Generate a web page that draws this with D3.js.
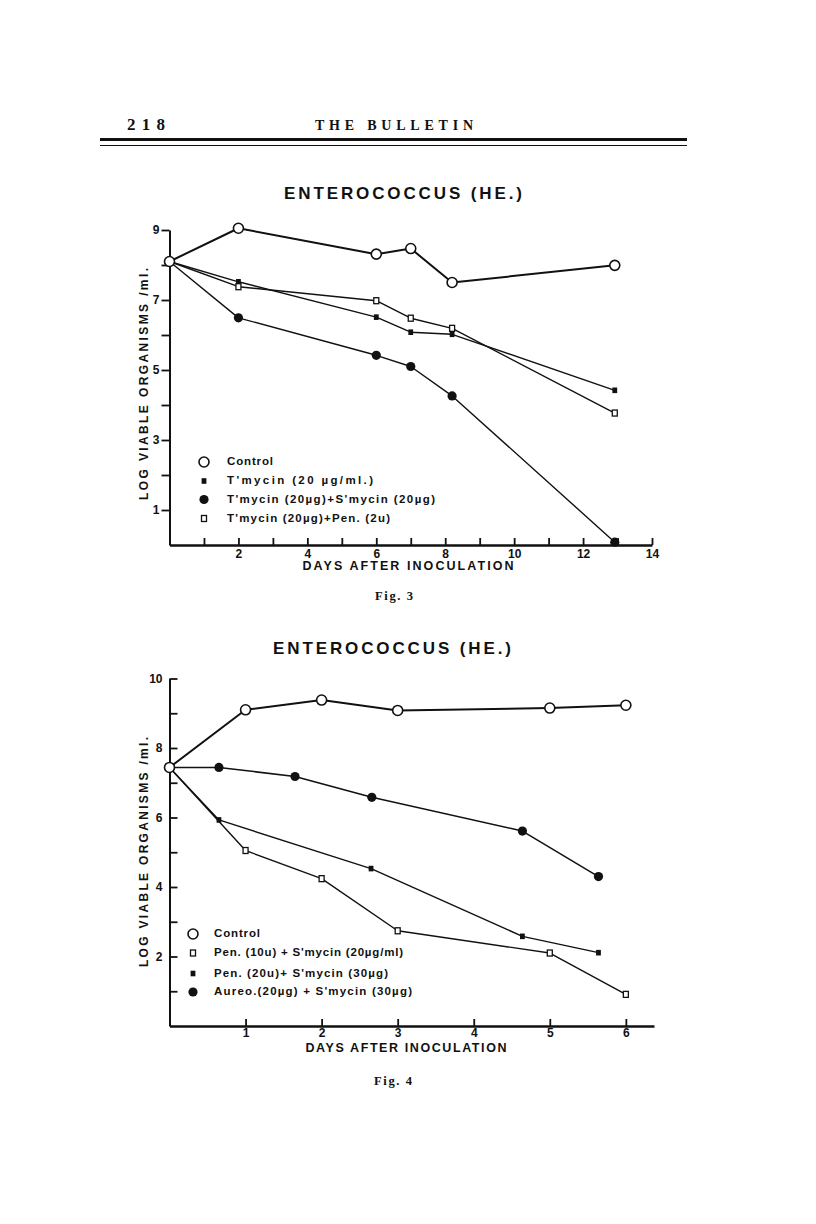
<!DOCTYPE html>
<html><head><meta charset="utf-8">
<script src="https://cdn.jsdelivr.net/npm/d3@7"></script>
<style>body{margin:0;background:#fff}svg{display:block}</style>
</head><body>
<svg id="page" width="816" height="1224"></svg>
<script>
// ---------- DATA ----------
const fig3Days = [0, 2, 6, 7, 8.2, 12.92];
const fig3Control = [8.1, 9.05, 8.31, 8.47, 7.5, 7.99];
const fig3Tmycin = [8.1, 7.52, 6.51, 6.08, 6.02, 4.42];
const fig3TmycinSmycin = [8.1, 6.49, 5.42, 5.1, 4.26, 0.08];
const fig3TmycinPen = [8.1, 7.38, 6.98, 6.48, 6.19, 3.77];
const fig3Legend = ["Control", "T'mycin (20 µg/ml.)", "T'mycin (20µg)+S'mycin (20µg)", "T'mycin (20µg)+Pen. (2u)"];
const fig3XTicks = [1,2,3,4,5,6,7,8,9,10,11,12,13,14];
const fig3XTickLabels = [2,4,6,8,10,12,14];
const fig3YTicks = [1,2,3,4,5,6,7,8,9];
const fig3YTickLabels = [1,3,5,7,9];

const fig4ControlDays = [0, 1, 2, 3, 5, 6];
const fig4Control = [7.44, 9.1, 9.38, 9.08, 9.15, 9.23];
const fig4Pen10Days = [0, 1, 2, 3, 5, 6];
const fig4Pen10 = [7.44, 5.05, 4.24, 2.74, 2.1, 0.91];
const fig4Pen20Days = [0, 0.65, 2.65, 4.64, 5.64];
const fig4Pen20 = [7.44, 5.93, 4.53, 2.58, 2.11];
const fig4AureoDays = [0, 0.65, 1.65, 2.66, 4.64, 5.64];
const fig4Aureo = [7.44, 7.44, 7.18, 6.58, 5.61, 4.30];
const fig4Legend = ["Control", "Pen. (10u) + S'mycin (20µg/ml)", "Pen. (20u)+ S'mycin (30µg)", "Aureo.(20µg) + S'mycin (30µg)"];
const fig4XTicks = [1,2,3,4,5,6];
const fig4YTicks = [1,2,3,4,5,6,7,8,9,10];
const fig4YTickLabels = [2,4,6,8,10];

// ---------- PAGE ----------
const svg = d3.select("#page");
const SANS = "'Liberation Sans', Arial, sans-serif";
const SERIF = "'Liberation Serif', 'Times New Roman', serif";
const INK = "#111";

function txt(x, y, s, o) {
  const t = svg.append("text").attr("x", x).attr("y", y).text(s)
    .attr("font-family", o.family || SANS).attr("font-size", o.size)
    .attr("font-weight", o.weight || "bold").attr("fill", INK)
    .attr("text-anchor", o.anchor || "start").attr("dominant-baseline", o.baseline || "middle");
  if (o.len) t.attr("textLength", o.len).attr("lengthAdjust", "spacing");
  if (o.rotate) t.attr("transform", `rotate(-90 ${x} ${y})`);
  return t;
}

// Header
txt(127, 130, "2 1 8", {family: SERIF, size: 17, baseline: "alphabetic", len: 38});
txt(315, 130, "THE BULLETIN", {family: SERIF, size: 14, baseline: "alphabetic", len: 158});
svg.append("line").attr("x1", 100).attr("x2", 687).attr("y1", 139.5).attr("y2", 139.5).attr("stroke", INK).attr("stroke-width", 3);
svg.append("line").attr("x1", 100).attr("x2", 687).attr("y1", 145.5).attr("y2", 145.5).attr("stroke", INK).attr("stroke-width", 1);

// marker drawing
function marker(g, kind, x, y) {
  if (kind === "openCircle") {
    g.append("circle").attr("cx", x).attr("cy", y).attr("r", 5).attr("fill", "#fff").attr("stroke", INK).attr("stroke-width", 1.6);
  } else if (kind === "filledCircle") {
    g.append("circle").attr("cx", x).attr("cy", y).attr("r", 4.6).attr("fill", INK);
  } else if (kind === "filledSquare") {
    g.append("rect").attr("x", x - 2.4).attr("y", y - 2.8).attr("width", 4.8).attr("height", 5.6).attr("fill", INK);
  } else if (kind === "openSquare") {
    g.append("rect").attr("x", x - 2.5).attr("y", y - 3).attr("width", 5).attr("height", 6).attr("fill", "#fff").attr("stroke", INK).attr("stroke-width", 1.3);
  }
}

function drawSeries(g, x, y, days, vals, kind, width) {
  const pts = days.map((d, i) => [d, vals[i]]);
  g.append("path").datum(pts)
    .attr("d", d3.line().x(d => x(d[0])).y(d => y(d[1])))
    .attr("fill", "none").attr("stroke", INK).attr("stroke-width", width).attr("stroke-linejoin", "round");
  return pts;
}

function styleAxis(a, w) {
  a.select(".domain").attr("stroke", INK).attr("stroke-width", w);
  a.selectAll(".tick line").attr("stroke", INK).attr("stroke-width", 1.8);
  a.selectAll(".tick text").attr("font-family", SANS).attr("font-weight", "bold").attr("font-size", 12).attr("fill", INK);
}

// ---------- FIG 3 ----------
{
  const x = d3.scaleLinear().domain([0, 14]).range([169.5, 652]);
  const y = d3.scaleLinear().domain([0, 9]).range([545, 230]);
  const g = svg.append("g");

  txt(403, 195, "ENTEROCOCCUS  (HE.)", {size: 17, anchor: "middle", len: 238});

  const ya = g.append("g").attr("transform", `translate(${x(0)},0)`)
    .call(d3.axisLeft(y).tickValues(fig3YTicks).tickSizeInner(8).tickSizeOuter(0).tickPadding(2)
      .tickFormat(d => fig3YTickLabels.includes(d) ? d : ""));
  styleAxis(ya, 2);
  const xa = g.append("g").attr("transform", `translate(0,${y(0)})`)
    .call(d3.axisBottom(x).tickValues(fig3XTicks).tickSizeInner(-7).tickSizeOuter(0).tickPadding(4)
      .tickFormat(d => fig3XTickLabels.includes(d) ? d : ""));
  styleAxis(xa, 2.6);

  txt(145, 384, "LOG   VIABLE   ORGANISMS  /ml.", {size: 12, anchor: "middle", rotate: true, len: 232});
  txt(408, 567, "DAYS  AFTER  INOCULATION", {size: 12.5, anchor: "middle", len: 211});

  const series = [
    [fig3Tmycin, "filledSquare", 1.4],
    [fig3TmycinPen, "openSquare", 1.4],
    [fig3TmycinSmycin, "filledCircle", 1.4],
    [fig3Control, "openCircle", 2]
  ];
  const all = series.map(s => [drawSeries(g, x, y, fig3Days, s[0], s[1], s[2]), s[1]]);
  all.forEach(([pts, kind]) => pts.forEach(p => marker(g, kind, x(p[0]), y(p[1]))));

  const legKinds = ["openCircle", "filledSquare", "filledCircle", "openSquare"];
  const legY = [462, 481, 499.5, 518.5];
  const legLen = [46, 146, 208, 163];
  fig3Legend.forEach((s, i) => {
    marker(g, legKinds[i], 204, legY[i]);
    txt(227, legY[i], s, {size: 11.5, len: legLen[i]});
  });

  txt(394, 600, "Fig. 3", {family: SERIF, size: 12.5, anchor: "middle", baseline: "alphabetic", len: 38});
}

// ---------- FIG 4 ----------
{
  const x = d3.scaleLinear().domain([0, 6.37]).range([169.5, 654]);
  const y = d3.scaleLinear().domain([0, 10]).range([1026, 678.5]);
  const g = svg.append("g");

  txt(392, 650, "ENTEROCOCCUS  (HE.)", {size: 17, anchor: "middle", len: 238});

  const ya = g.append("g").attr("transform", `translate(${x(0)},0)`)
    .call(d3.axisLeft(y).tickValues(fig4YTicks).tickSizeInner(-8).tickSizeOuter(0).tickPadding(7)
      .tickFormat(d => fig4YTickLabels.includes(d) ? d : ""));
  styleAxis(ya, 2);
  const xa = g.append("g").attr("transform", `translate(0,${y(0)})`)
    .call(d3.axisBottom(x).tickValues(fig4XTicks).tickSizeInner(-7).tickSizeOuter(0).tickPadding(2)
      .tickFormat(d3.format("d")));
  styleAxis(xa, 2.6);

  txt(145, 852, "LOG   VIABLE   ORGANISMS  /ml.", {size: 12, anchor: "middle", rotate: true, len: 230});
  txt(406, 1049, "DAYS  AFTER  INOCULATION", {size: 12.5, anchor: "middle", len: 201});

  const series = [
    [fig4AureoDays, fig4Aureo, "filledCircle", 1.5],
    [fig4Pen20Days, fig4Pen20, "filledSquare", 1.4],
    [fig4Pen10Days, fig4Pen10, "openSquare", 1.4],
    [fig4ControlDays, fig4Control, "openCircle", 2]
  ];
  const all = series.map(s => [drawSeries(g, x, y, s[0], s[1], s[2], s[3]), s[2]]);
  all.forEach(([pts, kind]) => pts.forEach(p => marker(g, kind, x(p[0]), y(p[1]))));

  const legKinds = ["openCircle", "openSquare", "filledSquare", "filledCircle"];
  const legY = [934, 953, 973.5, 992];
  const legLen = [46, 189, 174, 198];
  fig4Legend.forEach((s, i) => {
    marker(g, legKinds[i], 193, legY[i]);
    txt(214, legY[i], s, {size: 11.5, len: legLen[i]});
  });

  txt(393, 1085, "Fig. 4", {family: SERIF, size: 12.5, anchor: "middle", baseline: "alphabetic", len: 38});
}
</script>
</body></html>
